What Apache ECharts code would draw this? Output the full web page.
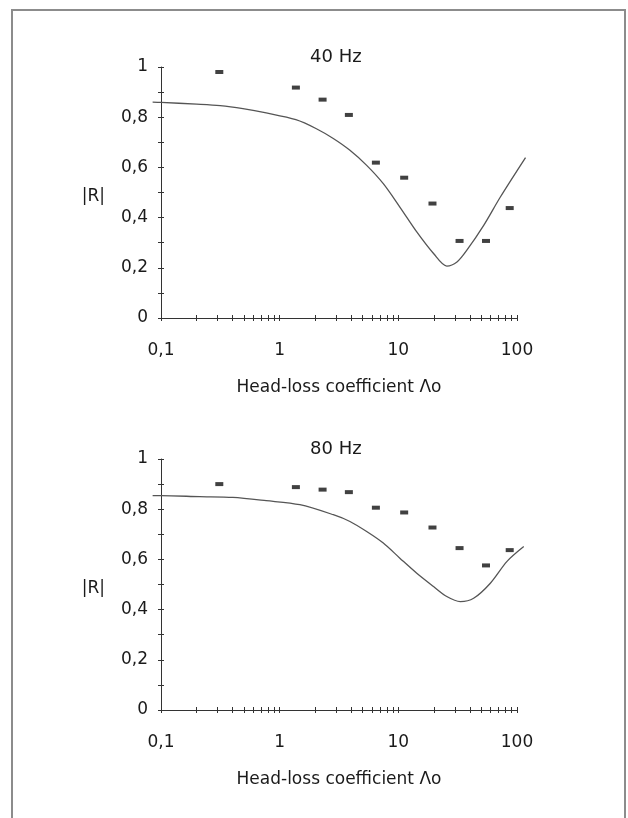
<!DOCTYPE html>
<html>
<head>
<meta charset="utf-8">
<script src="https://cdn.jsdelivr.net/npm/echarts@6/dist/echarts.min.js"></script>
<style>
    html, body { margin: 0; padding: 0; background: #fff; }
    #main { width: 628px; height: 818px; }
</style>
</head>
<body>
<div id="main"></div>
<script>
// measured |R| (dashes), same head-loss coefficients for both frequencies
var lambdaMeasured = [0.31, 1.37, 2.3, 3.83, 6.47, 11.2, 19.4, 32.8, 54.8, 86.8]
var r40Measured = [0.98, 0.918, 0.87, 0.809, 0.619, 0.559, 0.456, 0.307, 0.307, 0.438]
var r80Measured = [0.90, 0.888, 0.878, 0.868, 0.806, 0.787, 0.727, 0.645, 0.576, 0.637]

// computed curves (they run a little past both ends of the axis)
var lambda40Curve = [0.085, 0.1, 0.2, 0.315, 0.49, 0.77, 1.37, 2.04, 2.83, 3.91, 5.41, 7.47, 10.3, 14.3, 19.8, 25.6, 31.2, 37.8, 52.4, 72.4, 118]
var r40Curve = [0.86, 0.859, 0.852, 0.846, 0.834, 0.817, 0.79, 0.754, 0.715, 0.668, 0.608, 0.535, 0.442, 0.343, 0.257, 0.207, 0.223, 0.27, 0.369, 0.482, 0.639]
var lambda80Curve = [0.085, 0.1, 0.211, 0.403, 0.77, 1.48, 2.83, 3.91, 5.41, 7.47, 10.3, 14.3, 19.8, 25.6, 33.3, 43.1, 59.6, 82.4, 114]
var r80Curve = [0.854, 0.854, 0.85, 0.847, 0.834, 0.818, 0.778, 0.751, 0.711, 0.665, 0.605, 0.545, 0.492, 0.452, 0.432, 0.445, 0.505, 0.592, 0.651]

// axes
var xTickValues = [0.1, 0.2, 0.3, 0.4, 0.5, 0.6, 0.7, 0.8, 0.9,
    1, 2, 3, 4, 5, 6, 7, 8, 9,
    10, 20, 30, 40, 50, 60, 70, 80, 90, 100]
var xLabelValues = [0.1, 1, 10, 100]
var panelTitles = ['40 Hz', '80 Hz']
var xAxisName = 'Head-loss coefficient Λo'
var yAxisName = '|R|'

var zip = function (xs, ys) {
    return xs.map(function (x, i) { return [x, ys[i]] })
}
var comma = function (v) {
    return String(Number(v.toPrecision(6))).replace('.', ',')
}

var font = 'DejaVu Sans'
var ink = '#1a1a1a'
var axisColor = '#333'
var gridLeft = 161, gridWidth = 356, gridHeight = 251
var gridTops = [67, 459]
var xMin = 0.1, xMax = 100

// the line series clips at the grid in x, so the curves sit on a wider
// invisible grid whose log axis lines up with the visible one
var curveMin = 0.08, curveMax = 125
var decadePx = gridWidth / Math.log10(xMax / xMin)
var curveLeft = gridLeft - Math.log10(xMin / curveMin) * decadePx
var curveWidth = Math.log10(curveMax / curveMin) * decadePx

var grids = [], xAxes = [], yAxes = [], series = [], graphics = []

gridTops.forEach(function (top, g) {
    grids.push({ left: gridLeft, top: top, width: gridWidth, height: gridHeight, outerBoundsMode: 'none' })

    // main x axis: line, outside ticks, labels, name
    xAxes.push({
        gridIndex: 2 * g,
        type: 'log',
        logBase: 10,
        min: xMin,
        max: xMax,
        position: 'bottom',
        axisLine: { lineStyle: { color: axisColor, width: 1 } },
        axisTick: { customValues: xTickValues, length: 3, lineStyle: { color: axisColor } },
        splitLine: { show: false },
        axisLabel: {
            customValues: xLabelValues,
            formatter: comma,
            margin: 24,
            color: ink,
            fontFamily: font,
            fontSize: 17
        },
        name: xAxisName,
        nameLocation: 'middle',
        nameGap: 61,
        nameTextStyle: { color: ink, fontFamily: font, fontSize: 17 }
    })
    // twin x axis: inside ticks so the marks cross the line
    xAxes.push({
        gridIndex: 2 * g,
        type: 'log',
        logBase: 10,
        min: xMin,
        max: xMax,
        position: 'bottom',
        axisLine: { show: false },
        axisTick: { customValues: xTickValues, inside: true, length: 3, lineStyle: { color: axisColor } },
        axisLabel: { show: false },
        splitLine: { show: false }
    })

    yAxes.push({
        gridIndex: 2 * g,
        type: 'value',
        min: 0,
        max: 1,
        interval: 0.1,
        position: 'left',
        axisLine: { show: true, lineStyle: { color: axisColor, width: 1 } },
        axisTick: { show: true, length: 3, lineStyle: { color: axisColor } },
        splitLine: { show: false },
        axisLabel: {
            formatter: function (v) {
                var n = Math.round(v * 10)
                return n % 2 ? '' : comma(n / 10)
            },
            margin: 13,
            color: ink,
            fontFamily: font,
            fontSize: 17
        }
    })
    yAxes.push({
        gridIndex: 2 * g,
        type: 'value',
        min: 0,
        max: 1,
        interval: 0.1,
        position: 'left',
        axisLine: { show: false },
        axisTick: { show: true, inside: true, length: 3, lineStyle: { color: axisColor } },
        axisLabel: { show: false },
        splitLine: { show: false }
    })

    // invisible grid for the curve
    grids.push({ left: curveLeft, top: top, width: curveWidth, height: gridHeight, outerBoundsMode: 'none' })
    xAxes.push({ gridIndex: 2 * g + 1, type: 'log', logBase: 10, min: curveMin, max: curveMax, show: false })
    yAxes.push({ gridIndex: 2 * g + 1, type: 'value', min: 0, max: 1, show: false })

    graphics.push({
        type: 'text',
        left: 336 - 26,
        top: top - 19,
        style: { text: panelTitles[g], fill: ink, font: '18px "' + font + '"' }
    })
    // |R| label, sits a bit below the middle of the axis
    graphics.push({
        type: 'text',
        x: 105,
        y: top + 130,
        style: { text: yAxisName, fill: ink, font: '17px "' + font + '"', align: 'right', verticalAlign: 'middle' }
    })
})

// axis indices: per panel -> main x, twin x, curve x  (0,1,2 / 3,4,5)
//                 y:        main y, twin y, curve y  (0,1,2 / 3,4,5)
series.push(
    {
        name: '40 Hz curve', type: 'line', xAxisIndex: 2, yAxisIndex: 2,
        data: zip(lambda40Curve, r40Curve), smooth: 0.3, showSymbol: false,
        lineStyle: { color: '#555', width: 1.3 }
    },
    {
        name: '40 Hz measured', type: 'scatter', xAxisIndex: 0, yAxisIndex: 0,
        data: zip(lambdaMeasured, r40Measured), symbol: 'rect', symbolSize: [8, 4],
        itemStyle: { color: '#111' }
    },
    {
        name: '80 Hz curve', type: 'line', xAxisIndex: 5, yAxisIndex: 5,
        data: zip(lambda80Curve, r80Curve), smooth: 0.3, showSymbol: false,
        lineStyle: { color: '#555', width: 1.3 }
    },
    {
        name: '80 Hz measured', type: 'scatter', xAxisIndex: 3, yAxisIndex: 3,
        data: zip(lambdaMeasured, r80Measured), symbol: 'rect', symbolSize: [8, 4],
        itemStyle: { color: '#111' }
    }
)

// page frame
graphics.push({
    type: 'rect',
    shape: { x: 12, y: 10, width: 613, height: 830 },
    style: { fill: 'none', stroke: '#8c8c8c', lineWidth: 2 },
    silent: true
})

var myChart = echarts.init(document.getElementById('main'))
myChart.setOption({
    backgroundColor: '#fff',
    animation: false,
    grid: grids,
    xAxis: xAxes,
    yAxis: yAxes,
    series: series,
    graphic: graphics
})
</script>
</body>
</html>
